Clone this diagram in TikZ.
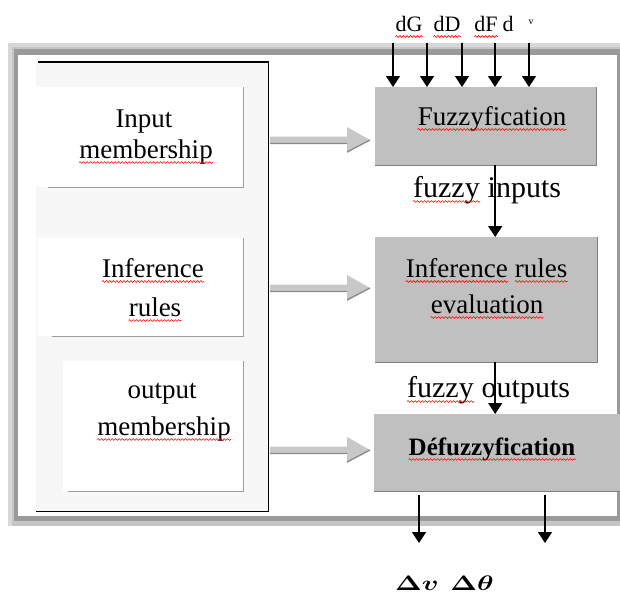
\RequirePackage{fix-cm}
\documentclass[tikz,border=0pt]{standalone}
\usepackage{fontspec}
\setmainfont{Liberation Serif}
\usetikzlibrary{arrows.meta,calc,decorations.pathmorphing}
\definecolor{boxgray}{HTML}{C0C0C0}
\definecolor{boxedge}{HTML}{7F7F7F}
\definecolor{panelfill}{HTML}{F7F7F7}
\definecolor{framegray}{HTML}{C6C6C6}
\definecolor{framedark}{HTML}{9A9A9A}
\definecolor{fatfill}{HTML}{C8C8C8}
\definecolor{fatdark}{HTML}{8A8A8A}
\newcommand\fatarr[2]{%
  \fill[fatfill] ($(#1)+(0,-3.5)$) -- ($(#2)+(-23,-3.5)$) -- ($(#2)+(-23,-13)$) -- (#2)
     -- ($(#2)+(-23,13)$) -- ($(#2)+(-23,3.5)$) -- ($(#1)+(0,3.5)$) -- cycle;
  \draw[fatdark, line width=1.3pt] ($(#1)+(0,3.5)$) -- ($(#2)+(-23,3.5)$)
     ($(#2)+(-23,12)$) -- (#2);
}
\begin{document}
\begin{tikzpicture}[x=1pt,y=-1pt,
  txt/.style={inner sep=0pt, anchor=base, font=\fontsize{27}{32}\selectfont},
  bigtxt/.style={inner sep=0pt, anchor=base, font=\fontsize{30}{34}\selectfont},
  lab/.style={inner sep=0pt, anchor=base, font=\fontsize{22}{24}\selectfont},
  mathlab/.style={inner sep=0pt, anchor=base},
  graybox/.style={fill=boxgray, draw=none, inner sep=0pt, anchor=north west},
  whitebox/.style={fill=white, draw=none, inner sep=0pt, anchor=north west},
  squig/.style={red, line width=0.6pt, decorate, decoration={snake, amplitude=0.9pt, segment length=3.5pt}},
  arr/.style={line width=1.5pt, -{Triangle[width=14pt,length=11pt]}}]
\useasboundingbox (0,0) rectangle (620,594);
% outer frame
\fill[framegray] (8,43) rectangle (620,526);
\fill[framedark] (14,49) rectangle (620,521);
\fill[white] (18,55) rectangle (617,516);
\fill[framegray!70] (8,43) rectangle (620,47);
\fill[framegray!70] (8,43) rectangle (12,526);
% left panel
\node[fill=panelfill, inner sep=0pt, anchor=north west, minimum width=232pt, minimum height=449pt] (panel) at (36,62) {};
\draw[line width=1.3pt] ([xshift=2pt]panel.north west) -- (panel.north east) -- (panel.south east) -- (panel.south west);
% white boxes
\node[whitebox, minimum width=207pt, minimum height=100pt] (wb1) at (36,87) {};
\node[whitebox, minimum width=205pt, minimum height=98pt] (wb2) at (38,238) {};
\node[whitebox, minimum width=180pt, minimum height=130pt] (wb3) at (63,361) {};
\foreach \b/\s in {wb1/12, wb2/14, wb3/5}
  \draw[gray!75, line width=1pt] (\b.north east) -- (\b.south east) -- ([xshift=\s pt]\b.south west);
% gray boxes
\node[graybox, minimum width=221pt, minimum height=78pt] (fuzz) at (375,87) {};
\node[graybox, minimum width=222pt, minimum height=125pt] (inf) at (375,237) {};
\node[graybox, minimum width=246pt, minimum height=77pt] (def) at (374,414) {};
\foreach \b in {fuzz, inf, def}
  \draw[boxedge, line width=1.5pt] (\b.north east) -- (\b.south east) -- (\b.south west);
% fat gray arrows
\coordinate (fa1) at (270,140); \coordinate (fb1) at (370,140);
\coordinate (fa2) at (270,288); \coordinate (fb2) at (370,288);
\coordinate (fa3) at (270,450); \coordinate (fb3) at (370,450);
\fatarr{fa1}{fb1}
\fatarr{fa2}{fb2}
\fatarr{fa3}{fb3}
% input arrows
\foreach \n/\x in {1/393, 2/427, 3/462, 4/495, 5/529} {
  \coordinate (i\n) at (\x,43);
  \draw[arr] (i\n) -- (i\n |- fuzz.north);
}
% internal arrows
\draw[arr] ([xshift=9.5pt]fuzz.south) -- ([xshift=9.5pt]fuzz.south |- inf.north);
\draw[arr] ([xshift=9pt]inf.south) -- ([xshift=9pt]inf.south |- def.north);
% output arrows
\coordinate (o1) at (419,543); \coordinate (o2) at (545,543);
\draw[arr] ($(o1 |- def.south)+(0,4)$) -- (o1);
\draw[arr] ($(o2 |- def.south)+(0,4)$) -- (o2);
% texts left
\node[txt] (t1a) at (144,127) {Input};
\node[txt] (t1b) at (146,158) {membership};
\node[txt] (t2a) at (153,277) {Inference};
\node[txt] (t2b) at (155,316) {rules};
\node[txt] (t3a) at (162,398) {output};
\node[txt] (t3b) at (164,435) {membership};
% texts right
\node[txt] (tf) at (492,125) {Fuzzyfication};
\node[bigtxt, anchor=base east] (tfi1) at (480,197) {fuzzy};
\node[bigtxt, anchor=base west] (tfi2) at ([xshift=7.5pt]tfi1.base east) {inputs};
\node[txt, anchor=base east] (ti1a) at (508,277) {Inference};
\node[txt, anchor=base west] (ti1b) at ([xshift=6.75pt]ti1a.base east) {rules};
\node[txt] (ti2) at (487,313) {evaluation};
\node[bigtxt, anchor=base east] (tfo1) at (474,397) {fuzzy};
\node[bigtxt, anchor=base west] (tfo2) at ([xshift=7.5pt]tfo1.base east) {outputs};
\node[inner sep=0pt, anchor=base, font=\fontsize{25}{28}\selectfont\bfseries] (td) at (492,455) {Défuzzyfication};
% input labels
\node[lab] (l1) at (409,32) {dG};
\node[lab] (l2) at (447,32) {dD};
\node[lab] (l3) at (486,32) {dF};
\node[lab] (l4) at (508,32) {d};
\node[inner sep=0pt, anchor=base, font=\fontsize{10}{11}\selectfont] (l5) at (531,25) {v};
% spell-check squiggles
\foreach \n in {t1b, t2a, t2b, t3b, tf, tfi1, ti1a, ti1b, ti2, tfo1, td, l1, l2, l3}
  \draw[squig] ([yshift=-4.5pt]\n.base west) -- ([yshift=-4.5pt]\n.base east);
% outputs
\node[mathlab] (dv) at (417,590) {\scalebox{2.8}[2.1]{\boldmath$\Delta v$}};
\node[mathlab] (dt) at (472,590) {\scalebox{2.8}[2.1]{\boldmath$\Delta \theta$}};
\end{tikzpicture}
\end{document}
